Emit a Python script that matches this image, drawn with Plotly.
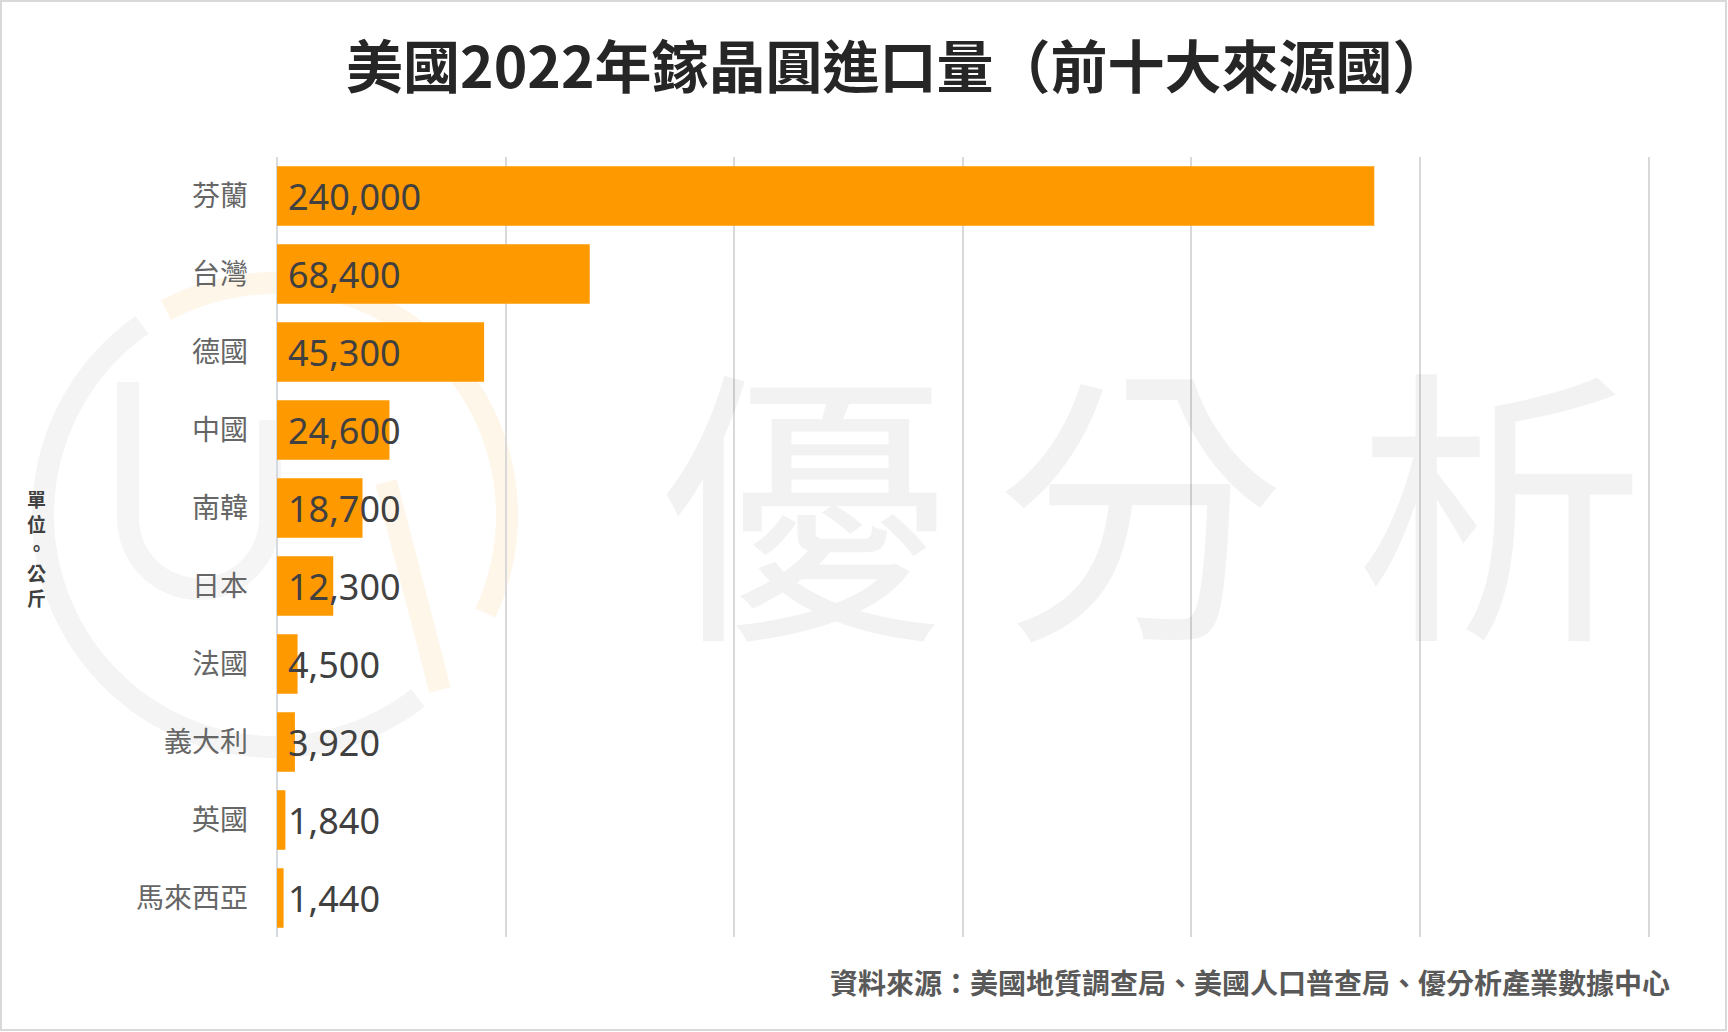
import numpy as np
import plotly.graph_objects as go

# ---- data ----
categories = ["芬蘭", "台灣", "德國", "中國", "南韓", "日本", "法國", "義大利", "英國", "馬來西亞"]
values = [240000, 68400, 45300, 24600, 18700, 12300, 4500, 3920, 1840, 1440]
title_text = "美國2022年鎵晶圓進口量（前十大來源國）"
unit_text = "單位。公斤"
source_text = "資料來源：美國地質調查局、美國人口普查局、優分析產業數據中心"
watermark_chars = ["優", "分", "析"]

W, H = 1728, 1032
ML, MR, MT, MB = 277, 78, 157, 95
PW, PH = W - ML - MR, H - MT - MB

CJK = "Noto Sans CJK TC, Noto Sans, sans-serif"


def px(xp, yp):
    """pixel -> paper coords"""
    return (xp - ML) / PW, (H - MB - yp) / PH


def arc_path(cx, cy, r, a0, a1, n=80):
    angs = np.radians(np.linspace(a0, a1, n))
    pts = [px(cx + r * np.cos(a), cy - r * np.sin(a)) for a in angs]
    return "M " + " L ".join(f"{x:.5f},{y:.5f}" for x, y in pts)


fig = go.Figure()
fig.add_trace(go.Bar(
    x=values, y=categories, orientation="h",
    marker=dict(color="#FF9900", line=dict(width=0)),
    hoverinfo="skip", showlegend=False,
))

annotations = []
for c, v in zip(categories, values):
    annotations.append(dict(
        x=0, y=c, xref="x", yref="y", text=f"{v:,}", showarrow=False,
        xanchor="left", yanchor="middle", xshift=9,
        font=dict(family="Noto Sans, Open Sans, sans-serif", size=36, color="#404040"),
    ))

# title
tx, ty = px(898, 63)
annotations.append(dict(
    x=tx, y=ty, xref="paper", yref="paper", text=f"<b>{title_text}</b>",
    showarrow=False, xanchor="center", yanchor="middle",
    font=dict(family=CJK, size=57, color="#262626"),
))
# vertical unit label (stacked characters)
ux, uy = px(36, 548)
annotations.append(dict(
    x=ux, y=uy, xref="paper", yref="paper", text="<br>".join(unit_text),
    showarrow=False, xanchor="center", yanchor="middle", align="center",
    borderpad=0,
    font=dict(family=CJK, size=19, color="#404040", weight="bold"),
))
# source
sx, sy = px(1672, 982)
annotations.append(dict(
    x=sx, y=sy, xref="paper", yref="paper",
    text=f"<b>{source_text}</b>", showarrow=False, xanchor="right", yanchor="middle",
    font=dict(family=CJK, size=28, color="#595959"),
))
# watermark text
for ch, cxp in zip(watermark_chars, [803, 1140, 1500]):
    wx, wy = px(cxp, 492)
    annotations.append(dict(
        x=wx, y=wy, xref="paper", yref="paper", text=ch,
        showarrow=False, xanchor="center", yanchor="middle",
        font=dict(family=CJK, size=290, color="rgba(0,0,0,0.05)"),
    ))

shapes = [
    # logo ring (grey part)
    dict(type="path", xref="paper", yref="paper", layer="below",
         path=arc_path(275, 515, 232, 125, 308),
         line=dict(color="#f4f4f4", width=22)),
    # logo ring (orange part)
    dict(type="path", xref="paper", yref="paper", layer="below",
         path=arc_path(275, 515, 232, 118, -25),
         line=dict(color="#fef6e9", width=22)),
    # U shape
    dict(type="path", xref="paper", yref="paper", layer="below",
         path="M {:.5f},{:.5f} L {:.5f},{:.5f} ".format(*px(128, 382), *px(128, 518))
              + arc_path(199, 518, 71, 180, 360).replace("M", "L", 1)
              + " L {:.5f},{:.5f}".format(*px(270, 420)),
         line=dict(color="#f5f5f5", width=22)),
    # V stroke
    dict(type="path", xref="paper", yref="paper", layer="below",
         path="M {:.5f},{:.5f} L {:.5f},{:.5f}".format(*px(386, 482), *px(440, 690)),
         line=dict(color="#fef6e9", width=22)),
]
# frame
fx0, fy0 = px(1, 1)
fx1, fy1 = px(W - 2, H - 2)
shapes.append(dict(type="rect", xref="paper", yref="paper", x0=fx0, y0=fy1, x1=fx1, y1=fy0,
                   line=dict(color="#d9d9d9", width=2), layer="above"))

fig.update_layout(
    width=W, height=H,
    margin=dict(l=ML, r=MR, t=MT, b=MB, pad=0),
    paper_bgcolor="white", plot_bgcolor="rgba(0,0,0,0)",
    bargap=0.237,
    xaxis=dict(range=[0, 300300], tick0=0, dtick=50000, showticklabels=False,
               showgrid=True, gridcolor="#d9d9d9", gridwidth=1.5,
               zeroline=True, zerolinecolor="#d5d9e0", zerolinewidth=1.5,
               showline=False, fixedrange=True),
    yaxis=dict(type="category", categoryorder="array", categoryarray=categories,
               autorange="reversed", showgrid=False, zeroline=False, showline=False,
               ticks="", ticklabelstandoff=28,
               tickfont=dict(family=CJK, size=28, color="#666666"), fixedrange=True),
    annotations=annotations,
    shapes=shapes,
    showlegend=False,
)

fig.write_html(
    "out.html",
    config={"displayModeBar": False},
    post_script="document.body.style.margin='0';document.body.style.overflow='hidden';",
)
